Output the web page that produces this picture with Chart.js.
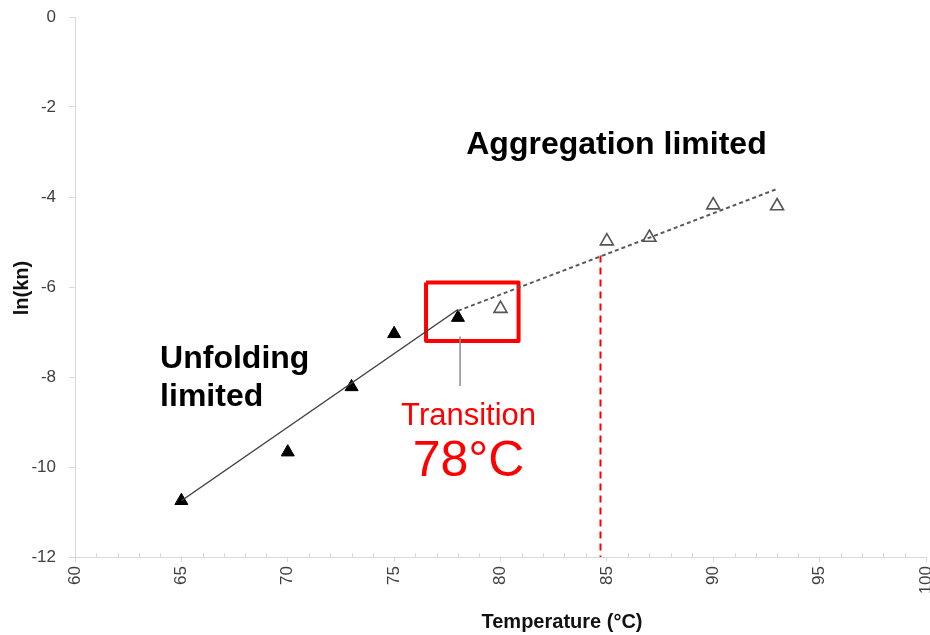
<!DOCTYPE html>
<html>
<head>
<meta charset="utf-8">
<script src="https://cdn.jsdelivr.net/npm/chart.js@4.4.1/dist/chart.umd.min.js"></script>
<style>
  html, body { margin: 0; padding: 0; background: #fff; }
  #wrap { width: 930px; height: 635px; }
</style>
</head>
<body>
<div id="wrap"><canvas id="kineticsChart" width="930" height="635"></canvas></div>
<script>
// data
const unfoldTemps = [65, 70, 73, 75, 78];
const unfoldLnK = [-10.75, -9.67, -8.22, -7.04, -6.68];
const aggTemps = [80, 85, 87, 90, 93];
const aggLnK = [-6.48, -4.98, -4.9, -4.18, -4.2];

// fitted lines (end points)
const unfoldFitX = [65, 78];
const unfoldFitY = [-10.75, -6.5];
const aggFitX = [78, 93];
const aggFitY = [-6.53, -3.82];

// annotations
const onsetX = [84.7, 84.7];
const onsetY = [-5.3, -12];
const boxX = [76.5, 80.85, 80.85, 76.5, 76.5];
const boxY = [-5.9, -5.9, -7.2, -7.2, -5.9];
const arrowX = [78.1, 78.1];
const arrowY = [-8.2, -7.1];

const xTicks = [60, 65, 70, 75, 80, 85, 90, 95, 100];
const yTicks = [-12, -10, -8, -6, -4, -2, 0];

const tickFont = "'Liberation Sans', Arial, sans-serif";
const axisGrey = '#d9d9d9';

function pts(xs, ys) {
  return xs.map(function(x, i) { return { x: x, y: ys[i] }; });
}

// minor ticks, axis titles and the text labels
const extras = {
  id: 'extras',
  afterDraw: function(chart) {
    const c = chart.ctx;
    const xs = chart.scales.x, ys = chart.scales.y;
    const base = ys.getPixelForValue(-12);
    c.save();
    c.strokeStyle = axisGrey;
    c.lineWidth = 1;
    for (let t = 61; t < 100; t++) {
      if (t % 5 === 0) continue;
      const px = Math.round(xs.getPixelForValue(t)) + 0.5;
      c.beginPath();
      c.moveTo(px, base);
      c.lineTo(px, base - 4);
      c.stroke();
    }

    c.fillStyle = '#111';
    c.textAlign = 'center';
    c.textBaseline = 'middle';
    c.font = "bold 20px " + tickFont;
    c.fillText('Temperature (°C)', 562, 622);
    c.save();
    c.translate(22, 288);
    c.rotate(-Math.PI / 2);
    c.fillText('ln(kn)', 0, 0);
    c.restore();

    c.fillStyle = '#000';
    c.font = "bold 32px 'Liberation Sans', Arial, sans-serif";
    c.fillText('Aggregation limited', xs.getPixelForValue(85.45), ys.getPixelForValue(-2.85));
    c.textAlign = 'left';
    c.fillText('Unfolding', xs.getPixelForValue(64.0), ys.getPixelForValue(-7.6));
    c.fillText('limited', xs.getPixelForValue(64.0), ys.getPixelForValue(-8.45));

    c.fillStyle = '#ff0000';
    c.textAlign = 'center';
    c.font = "31px 'Liberation Sans', Arial, sans-serif";
    c.fillText('Transition', xs.getPixelForValue(78.5), ys.getPixelForValue(-8.87));
    c.font = "50px 'Liberation Sans', Arial, sans-serif";
    c.fillText('78°C', xs.getPixelForValue(78.5), ys.getPixelForValue(-9.9));
    c.restore();
  }
};

const ctx = document.getElementById('kineticsChart').getContext('2d');
const chart = new Chart(ctx, {
  type: 'scatter',
  data: {
    datasets: [
      {
        label: 'onset',
        type: 'line',
        data: pts(onsetX, onsetY),
        borderColor: '#ff0000',
        borderWidth: 2,
        borderDash: [7, 5],
        pointRadius: 0,
        fill: false
      },
      {
        label: 'unfolding fit',
        type: 'line',
        data: pts(unfoldFitX, unfoldFitY),
        borderColor: '#404040',
        borderWidth: 1.5,
        pointRadius: 0,
        fill: false
      },
      {
        label: 'aggregation fit',
        type: 'line',
        data: pts(aggFitX, aggFitY),
        borderColor: '#595959',
        borderWidth: 2,
        borderDash: [4, 3],
        pointRadius: 0,
        fill: false
      },
      {
        label: 'arrow',
        type: 'line',
        data: pts(arrowX, arrowY),
        borderColor: '#8c8c8c',
        borderWidth: 1.5,
        pointRadius: 0,
        fill: false
      },
      {
        label: 'unfolding limited',
        data: pts(unfoldTemps, unfoldLnK),
        pointStyle: 'triangle',
        pointRadius: 7.5,
        backgroundColor: '#000',
        borderColor: '#000',
        borderWidth: 1
      },
      {
        label: 'aggregation limited',
        data: pts(aggTemps, aggLnK),
        pointStyle: 'triangle',
        pointRadius: 7.5,
        backgroundColor: 'rgba(255,255,255,0)',
        borderColor: '#555',
        borderWidth: 1.6
      },
      {
        label: 'transition box',
        type: 'line',
        data: pts(boxX, boxY),
        borderColor: '#ff0000',
        borderWidth: 4,
        borderJoinStyle: 'round',
        pointRadius: 0,
        tension: 0,
        fill: false
      }
    ]
  },
  options: {
    responsive: false,
    animation: false,
    layout: { autoPadding: false, padding: { left: 0, right: 4, top: 17, bottom: 0 } },
    plugins: {
      legend: { display: false },
      tooltip: { enabled: false }
    },
    scales: {
      x: {
        type: 'linear',
        min: 60,
        max: 100,
        afterBuildTicks: function(scale) {
          scale.ticks = xTicks.map(function(v) { return { value: v }; });
        },
        afterFit: function(scale) {
          scale.height = 78;
          scale.paddingLeft = 0;
          scale.paddingRight = 0;
        },
        grid: { drawOnChartArea: false, drawTicks: true, tickLength: 5, color: axisGrey },
        border: { display: true, color: axisGrey, width: 1 },
        ticks: {
          minRotation: 90,
          maxRotation: 90,
          padding: 4,
          color: '#404040',
          font: { family: tickFont, size: 17 }
        }
      },
      y: {
        type: 'linear',
        min: -12,
        max: 0,
        afterBuildTicks: function(scale) {
          scale.ticks = yTicks.map(function(v) { return { value: v }; });
        },
        afterFit: function(scale) {
          scale.width = 75;
          scale.paddingTop = 0;
          scale.paddingBottom = 0;
        },
        grid: { drawOnChartArea: false, drawTicks: true, tickLength: 6, color: axisGrey },
        border: { display: true, color: axisGrey, width: 1 },
        ticks: {
          padding: 13,
          color: '#404040',
          font: { family: tickFont, size: 17 }
        }
      }
    }
  },
  plugins: [extras]
});
</script>
</body>
</html>
